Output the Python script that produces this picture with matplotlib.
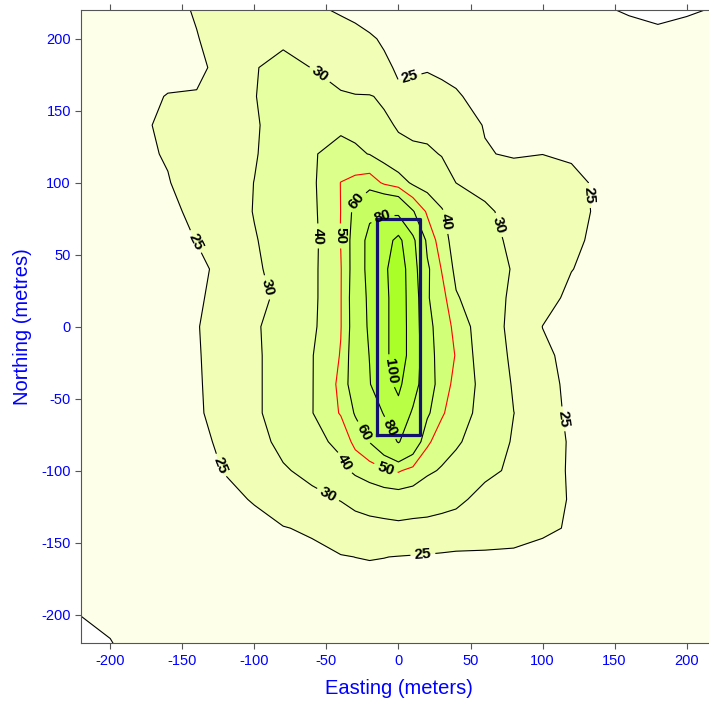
import numpy as np
import matplotlib
matplotlib.use('Agg')
import matplotlib.pyplot as plt

plt.rcParams['font.family'] = ['Liberation Sans', 'DejaVu Sans']
plt.rcParams['axes.unicode_minus'] = False

# receptor grid (metres)
east = [-220, -200, -180, -160, -140, -120, -100, -80, -60, -40, -30, -20, -10, 0,
        10, 20, 30, 40, 60, 80, 100, 120, 140, 160, 180, 200, 220]
north = [-220, -200, -180, -160, -140, -120, -100, -80, -60, -40, -20, 0,
         20, 40, 60, 80, 100, 120, 140, 160, 180, 200, 220]

# concentrations, one row per northing (south to north)
s220 = [19.3, 19.9, 20.9, 21.0, 21.2, 21.4, 21.6, 21.8, 22.0, 22.1, 22.2, 22.2, 22.2, 22.2, 22.1, 22.1, 22.0, 22.0, 21.9, 21.7, 21.5, 21.3, 21.1, 20.9, 20.7, 20.6, 20.5]
s200 = [20.05, 20.5, 20.9, 21.3, 21.6, 21.9, 22.2, 22.4, 22.6, 22.8, 22.9, 22.95, 22.95, 22.9, 22.8, 22.75, 22.7, 22.6, 22.5, 22.3, 22.1, 21.9, 21.7, 21.4, 21.2, 21.0, 20.8]
s180 = [20.3, 20.7, 21.2, 21.6, 22.0, 22.4, 22.8, 23.1, 23.4, 23.7, 23.85, 23.95, 23.9, 23.8, 23.7, 23.6, 23.5, 23.4, 23.2, 23.0, 22.8, 22.5, 22.2, 21.9, 21.6, 21.4, 21.2]
s160 = [20.4, 20.9, 21.5, 22.0, 22.5, 23.0, 23.4, 23.8, 24.2, 24.8, 25.02, 25.15, 25.05, 24.9, 24.8, 24.7, 24.6, 24.5, 24.6, 24.6, 23.9, 23.4, 22.9, 22.4, 22.0, 21.8, 21.5]
s140 = [20.6, 21.2, 22.0, 22.8, 23.4, 23.9, 24.4, 24.85, 25.45, 27.3, 27.5, 27.8, 28.0, 28.5, 28.0, 27.8, 27.4, 27.0, 26.3, 25.9, 25.6, 24.68, 23.6, 22.8, 22.3, 22.0, 21.7]
s120 = [20.7, 21.4, 22.3, 23.2, 23.9, 24.5, 25.15, 27.0, 28.8, 30.2, 31.7, 33.0, 34.0, 34.3, 34.0, 33.5, 32.5, 31.5, 27.8, 26.6, 26.0, 24.8, 23.5, 22.8, 22.3, 22.0, 21.7]
s100 = [20.8, 21.5, 22.5, 23.4, 24.3, 25.1, 27.2, 29.5, 31.3, 37.5, 41.7, 45.0, 48.5, 51.0, 47.0, 41.5, 39.2, 36.0, 31.5, 28.9, 26.5, 24.6, 23.6, 22.9, 22.3, 22.0, 21.7]
s080 = [21.0, 21.5, 22.3, 23.6, 24.4, 25.5, 28.2, 31.3, 37.0, 42.3, 53.15, 60.4, 70.0, 81.0, 70.0, 52.0, 44.0, 41.5, 34.0, 29.4, 26.8, 24.6, 23.6, 22.9, 22.3, 22.0, 21.7]
s060 = [21.1, 21.6, 22.5, 23.6, 24.6, 26.2, 29.4, 31.6, 39.6, 50.85, 61.0, 70.0, 81.0, 95.5, 77.3, 62.0, 51.5, 44.0, 37.0, 30.05, 26.8, 24.2, 23.3, 22.8, 22.3, 22.0, 21.8]
s040 = [21.2, 21.7, 22.6, 23.7, 24.7, 26.2, 29.4, 31.6, 39.5, 52.2, 68.0, 79.0, 95.0, 103.0, 90.0, 66.0, 55.0, 47.0, 36.5, 29.3, 26.5, 24.0, 23.3, 22.8, 22.4, 22.1, 21.9]
s020 = [21.3, 21.8, 22.7, 23.8, 24.8, 26.1, 29.4, 31.6, 39.5, 50.55, 68.0, 80.5, 95.0, 110.0, 92.0, 68.0, 52.0, 49.8, 33.0, 29.15, 25.8, 23.9, 23.3, 22.8, 22.4, 22.1, 21.9]
n000 = [21.4, 21.9, 22.8, 23.9, 24.9, 25.9, 29.3, 32.4, 38.0, 49.6, 66.5, 83.0, 95.0, 110.0, 92.0, 65.3, 52.0, 49.0, 31.0, 29.5, 24.95, 24.2, 23.5, 22.9, 22.4, 22.1, 21.9]
n020 = [21.5, 22.0, 22.9, 24.0, 24.7, 25.8, 28.8, 31.0, 37.5, 49.6, 67.0, 84.0, 96.0, 108.0, 93.0, 61.0, 54.0, 41.0, 33.0, 28.9, 26.5, 24.1, 23.4, 22.8, 22.4, 22.1, 21.9]
n040 = [21.6, 22.1, 23.0, 24.2, 24.6, 25.5, 28.5, 33.5, 37.5, 49.5, 66.0, 87.0, 96.0, 112.0, 88.0, 62.0, 49.5, 37.3, 32.0, 29.7, 27.5, 25.1, 23.8, 23.0, 22.5, 22.2, 22.0]
n060 = [21.7, 22.2, 23.2, 24.3, 25.05, 27.3, 29.7, 32.0, 37.0, 50.3, 65.7, 87.0, 92.0, 105.0, 84.0, 57.0, 45.0, 35.0, 31.2, 29.3, 27.5, 26.2, 23.6, 23.0, 22.6, 22.3, 22.0]
n080 = [21.8, 22.3, 23.5, 24.6, 25.4, 27.5, 30.2, 34.5, 37.7, 50.1, 63.3, 75.0, 78.0, 76.0, 61.0, 48.5, 41.0, 35.1, 30.8, 28.5, 27.0, 26.0, 24.5, 23.6, 23.0, 22.5, 22.2]
n100 = [21.9, 22.4, 23.8, 24.8, 26.8, 28.3, 30.05, 34.0, 38.2, 50.2, 53.0, 55.0, 48.5, 45.1, 38.3, 35.5, 33.0, 29.95, 28.5, 27.3, 27.5, 25.8, 24.45, 23.6, 23.0, 22.6, 22.2]
n120 = [22.0, 22.5, 24.3, 25.3, 26.5, 28.0, 29.7, 32.0, 39.35, 42.6, 41.5, 39.7, 36.0, 30.9, 31.0, 30.95, 29.7, 28.5, 25.25, 24.6, 24.95, 24.6, 24.0, 23.4, 22.9, 22.5, 22.2]
n140 = [22.0, 22.5, 24.5, 25.6, 26.5, 27.8, 29.5, 32.0, 35.0, 38.5, 37.5, 35.0, 30.6, 29.7, 28.8, 28.2, 27.6, 26.8, 24.8, 24.0, 23.6, 23.3, 23.0, 22.7, 22.4, 22.2, 22.0]
n160 = [21.8, 22.5, 24.4, 25.1, 25.15, 27.0, 29.8, 32.5, 33.0, 30.4, 30.2, 30.2, 29.5, 25.5, 25.7, 26.0, 25.7, 25.3, 24.0, 23.6, 23.2, 22.9, 22.6, 22.4, 22.2, 22.0, 21.8]
n180 = [21.8, 22.5, 23.3, 24.2, 24.5, 25.8, 29.7, 31.6, 29.9, 28.5, 27.5, 26.5, 25.6, 24.6, 24.7, 24.8, 24.5, 24.2, 23.6, 23.2, 22.8, 22.5, 22.3, 22.3, 22.0, 22.0, 22.0]
n200 = [22.0, 22.8, 23.5, 24.3, 24.9, 26.0, 27.5, 29.0, 28.5, 27.0, 26.2, 25.4, 24.6, 24.2, 24.0, 23.7, 23.4, 23.0, 22.6, 22.2, 22.0, 21.8, 21.6, 22.0, 21.0, 21.7, 22.0]
n220 = [22.0, 23.0, 23.5, 24.3, 25.2, 26.0, 27.0, 27.5, 25.8, 24.5, 24.0, 23.5, 23.0, 22.8, 22.5, 22.3, 22.2, 22.0, 21.8, 21.5, 21.2, 21.0, 20.6, 19.5, 19.0, 19.5, 20.3]

fill_levels = [20, 25, 30, 40, 50, 60, 80, 100, 200]
labelled = [25, 30, 40, 50, 60, 80, 100]

# source area outline
src_x = [-15, 15, 15, -15, -15]
src_y = [-75, -75, 75, 75, -75]

conc = np.array([s220, s200, s180, s160, s140, s120, s100, s080, s060, s040, s020,
                 n000, n020, n040, n060, n080, n100, n120, n140, n160, n180, n200, n220])

fill_colors = ['#fdffe8', '#f1ffb6', '#e6ffa0', '#dcff8c', '#d2ff78', '#c7ff62', '#b9ff46', '#aaff28']
line_colors = ['k', 'k', 'k', 'r', 'k', 'k', 'k']

# where the labels sit on the lines
label_pos = [(-141, 59), (8, 172), (131, 91), (115, -64), (17, -159), (-125, -97),
             (-54, 176), (-92, 27), (71, 71), (-49, -117),
             (-56, 63), (33, 73), (-38, -95),
             (-40, 63), (-9, -99),
             (-28, 86), (-25, -74),
             (-12, 78), (-7, -71),
             (-7, -31)]

fig = plt.figure(figsize=(7.09, 7.05), dpi=100)
ax = fig.add_axes([81.4 / 709, 1 - 643.3 / 705, 634.1 / 709, 633.3 / 705])

ax.contourf(east, north, conc, levels=fill_levels, colors=fill_colors)
ax.contour(east, north, conc, levels=[20], colors='k', linewidths=0.8)
cs = ax.contour(east, north, conc, levels=labelled, colors=line_colors, linewidths=0.8)
lbls = ax.clabel(cs, fmt='%d', fontsize=11, colors='k', inline=True,
                 inline_spacing=4, manual=label_pos)
for t in lbls:
    t.set_fontweight('bold')

ax.plot(src_x, src_y, color='#12126e', lw=2.3)

ax.set_xlim(-220, 220)
ax.set_ylim(-220, 220)
ax.set_xticks([-200, -150, -100, -50, 0, 50, 100, 150, 200])
ax.set_yticks([-200, -150, -100, -50, 0, 50, 100, 150, 200])
ax.tick_params(direction='out', length=4, width=0.8, color='#555555',
               labelcolor='blue', labelsize=10.5, top=True, right=True)
for sp in ax.spines.values():
    sp.set_color('#555555')
    sp.set_linewidth(0.8)

ax.set_xlabel('Easting (meters)', color='blue', fontsize=14.5, labelpad=8)
ax.set_ylabel('Northing (metres)', color='blue', fontsize=14.5, labelpad=7)

fig.savefig('out.png', dpi=100)
